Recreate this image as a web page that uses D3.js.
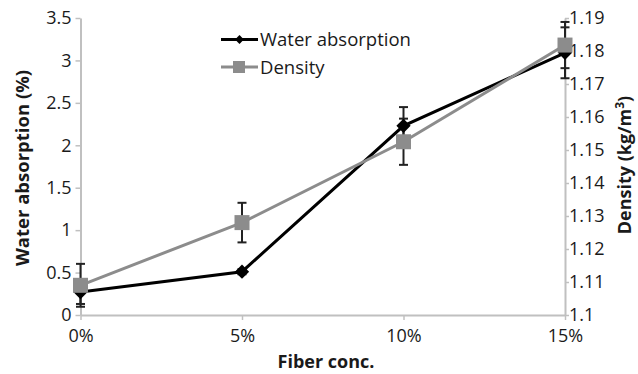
<!DOCTYPE html>
<html>
<head>
<meta charset="utf-8">
<script src="https://cdn.jsdelivr.net/npm/d3@7"></script>
<style>
  body { margin: 0; background: #fff; }
  text { font-family: "Open Sans", sans-serif; fill: #1a1a1a; }
</style>
</head>
<body>
<svg id="chart"></svg>
<script>
const width = 638;
const height = 374;

// data
const fiberConc = [0, 5, 10, 15];
const fiberLabels = ["0%", "5%", "10%", "15%"];
const waterAbsorption = [0.27, 0.51, 2.23, 3.09];
const waterError = [0.14, 0.03, 0.22, 0.3];
const density = [1.109, 1.128, 1.1525, 1.1818];
const densityError = [0.0065, 0.006, 0.007, 0.007];
const waterTicks = [0, 0.5, 1, 1.5, 2, 2.5, 3, 3.5];
const densityTicks = [1.1, 1.11, 1.12, 1.13, 1.14, 1.15, 1.16, 1.17, 1.18, 1.19];

const margin = { top: 18, right: 73, bottom: 59, left: 80.5 };

const svg = d3.select("#chart").attr("width", width).attr("height", height);

const x = d3.scaleLinear().domain([0, 15]).range([margin.left, width - margin.right]);
const yLeft = d3.scaleLinear().domain([0, 3.5]).range([height - margin.bottom, margin.top]);
const yRight = d3.scaleLinear().domain([1.1, 1.19]).range([height - margin.bottom, margin.top]);

const axisColor = "#c0c0c0";

// axes
const gx = svg.append("g")
  .attr("transform", `translate(0,${height - margin.bottom})`)
  .call(d3.axisBottom(x).tickValues(fiberConc).tickFormat((d, i) => fiberLabels[i]).tickSize(5).tickSizeOuter(0));

const gl = svg.append("g")
  .attr("transform", `translate(${margin.left},0)`)
  .call(d3.axisLeft(yLeft).tickValues(waterTicks).tickFormat(d3.format("~g")).tickSize(5).tickSizeOuter(0));

const gr = svg.append("g")
  .attr("transform", `translate(${width - margin.right},0)`)
  .call(d3.axisRight(yRight).tickValues(densityTicks).tickFormat(d => d === 1.1 ? "1.1" : d3.format(".2f")(d)).tickSize(4).tickSizeOuter(0));

[gx, gl, gr].forEach(g => {
  g.select(".domain").attr("stroke", axisColor).attr("stroke-width", 2);
  g.selectAll(".tick line").attr("stroke", axisColor).attr("stroke-width", 1.5);
  g.selectAll(".tick text").attr("font-size", 18).attr("fill", "#1a1a1a")
    .attr("font-family", "'Open Sans', sans-serif");
});
gx.selectAll(".tick text").attr("dy", "1.05em");
gl.selectAll(".tick text").attr("x", -9);
gr.selectAll(".tick text").attr("x", 4);

// error bars
function errorBars(vals, errs, yScale) {
  const g = svg.append("g").attr("stroke", "#222").attr("stroke-width", 2);
  fiberConc.forEach((c, i) => {
    const cx = x(c);
    const y0 = yScale(vals[i] - errs[i]);
    const y1 = yScale(vals[i] + errs[i]);
    g.append("line").attr("x1", cx).attr("x2", cx).attr("y1", y0).attr("y2", y1);
    g.append("line").attr("x1", cx - 4.5).attr("x2", cx + 4.5).attr("y1", y0).attr("y2", y0);
    g.append("line").attr("x1", cx - 4.5).attr("x2", cx + 4.5).attr("y1", y1).attr("y2", y1);
  });
}
errorBars(waterAbsorption, waterError, yLeft);
errorBars(density, densityError, yRight);

// lines
const waterLine = d3.line().x((d, i) => x(fiberConc[i])).y(d => yLeft(d));
const densityLine = d3.line().x((d, i) => x(fiberConc[i])).y(d => yRight(d));

svg.append("path").datum(waterAbsorption)
  .attr("d", waterLine).attr("fill", "none").attr("stroke", "#000").attr("stroke-width", 3);

svg.selectAll(".diamond").data(waterAbsorption).enter().append("path")
  .attr("class", "diamond")
  .attr("d", d3.symbol().type(d3.symbolDiamond2).size(130))
  .attr("transform", (d, i) => `translate(${x(fiberConc[i])},${yLeft(d)})`)
  .attr("fill", "#000");

svg.append("path").datum(density)
  .attr("d", densityLine).attr("fill", "none").attr("stroke", "#8c8c8c").attr("stroke-width", 3);

svg.selectAll(".square").data(density).enter().append("rect")
  .attr("class", "square")
  .attr("x", (d, i) => x(fiberConc[i]) - 7.5)
  .attr("y", d => yRight(d) - 7.5)
  .attr("width", 15).attr("height", 15)
  .attr("fill", "#8c8c8c");

// legend
const legend = svg.append("g");
legend.append("line").attr("x1", 221).attr("x2", 258).attr("y1", 39.5).attr("y2", 39.5)
  .attr("stroke", "#000").attr("stroke-width", 3);
legend.append("path").attr("d", d3.symbol().type(d3.symbolDiamond2).size(50))
  .attr("transform", "translate(239.5,39.5)").attr("fill", "#000");
legend.append("text").attr("x", 260).attr("y", 46).attr("font-size", 18.5).text("Water absorption");

legend.append("line").attr("x1", 221).attr("x2", 258).attr("y1", 67).attr("y2", 67)
  .attr("stroke", "#8c8c8c").attr("stroke-width", 3);
legend.append("rect").attr("x", 233).attr("y", 61).attr("width", 12).attr("height", 12).attr("fill", "#8c8c8c");
legend.append("text").attr("x", 260).attr("y", 73.5).attr("font-size", 18.5).text("Density");

// axis titles
svg.append("text")
  .attr("x", 326).attr("y", 368)
  .attr("text-anchor", "middle").attr("font-size", 18).attr("font-weight", "bold")
  .text("Fiber conc.");

svg.append("text")
  .attr("transform", "translate(29,168) rotate(-90)")
  .attr("text-anchor", "middle").attr("font-size", 18.5).attr("font-weight", "bold")
  .text("Water absorption (%)");

const rt = svg.append("text")
  .attr("transform", "translate(631,165) rotate(-90)")
  .attr("text-anchor", "middle").attr("font-size", 18).attr("font-weight", "bold");
rt.append("tspan").text("Density (kg/m");
rt.append("tspan").attr("dy", -7).attr("font-size", 12).text("3");
rt.append("tspan").attr("dy", 7).text(")");
</script>
</body>
</html>
